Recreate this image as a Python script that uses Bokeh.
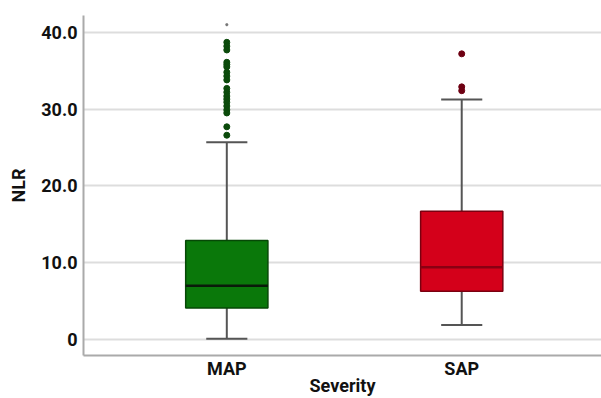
from bokeh.plotting import figure
from bokeh.models import FixedTicker, Range1d
from bokeh.embed import file_html
from bokeh.resources import INLINE

categories = ["MAP", "SAP"]
q1 = [4.1, 6.3]
median = [7.0, 9.4]
q3 = [12.9, 16.7]
lower = [0.1, 1.9]
upper = [25.7, 31.25]
map_outliers = [38.7, 38.2, 37.7, 36.1, 35.8, 35.5, 34.8, 34.3, 33.8, 32.7, 32.2,
                31.7, 31.3, 30.9, 30.4, 29.9, 29.5, 27.7, 26.6]
map_extremes = [41.0]
sap_outliers = [37.2, 32.9, 32.4]
y_ticks = [0, 10, 20, 30, 40]
y_tick_labels = ["0", "10.0", "20.0", "30.0", "40.0"]
x_title = "Severity"
y_title = "NLR"

fills = ["#0a780a", "#d4001a"]
edges = ["#064806", "#7a0010"]
med_colors = ["#0a1a0a", "#8a0012"]

FONT = "Roboto"

p = figure(width=601, height=398, output_backend="svg", toolbar_location=None,
           x_range=Range1d(-0.61, 1.595), y_range=Range1d(-2.08, 42.19),
           min_border_left=83, min_border_right=0, min_border_top=15, min_border_bottom=43)
p.outline_line_color = None
p.background_fill_color = "white"
p.border_fill_color = "white"

xs = list(range(len(categories)))
bw = 0.35
cw = 0.175

# whiskers
p.segment(x0=xs, y0=q3, x1=xs, y1=upper, line_color="#555555", line_width=2)
p.segment(x0=xs, y0=lower, x1=xs, y1=q1, line_color="#555555", line_width=2)
p.segment(x0=[x - cw / 2 for x in xs], y0=upper, x1=[x + cw / 2 for x in xs], y1=upper,
          line_color="#555555", line_width=2)
p.segment(x0=[x - cw / 2 for x in xs], y0=lower, x1=[x + cw / 2 for x in xs], y1=lower,
          line_color="#555555", line_width=2)

# boxes
p.vbar(x=xs, width=bw, bottom=q1, top=q3, fill_color=fills, line_color=edges, line_width=1.5)
p.segment(x0=[x - bw / 2 for x in xs], y0=median, x1=[x + bw / 2 for x in xs], y1=median,
          line_color=med_colors, line_width=2.5)

# outliers
p.scatter(x=[0] * len(map_outliers), y=map_outliers, size=6, fill_color="#0b4a0b",
          line_color="#0b4a0b")
p.scatter(x=[0] * len(map_extremes), y=map_extremes, size=3, marker="asterisk",
          line_color="#777777", line_width=1.2)
p.scatter(x=[1] * len(sap_outliers), y=sap_outliers, size=6, fill_color="#6e0012",
          line_color="#6e0012")

# axes
p.xaxis.ticker = FixedTicker(ticks=xs)
p.xaxis.major_label_overrides = {i: c for i, c in enumerate(categories)}
p.yaxis.ticker = FixedTicker(ticks=y_ticks)
p.yaxis.major_label_overrides = {t: l for t, l in zip(y_ticks, y_tick_labels)}
p.xaxis.axis_label = x_title
p.yaxis.axis_label = y_title
for ax in (p.xaxis, p.yaxis):
    ax.axis_line_color = "#aaaaaa"
    ax.axis_line_width = 2
    ax.major_tick_line_color = None
    ax.minor_tick_line_color = None
    ax.major_tick_out = 0
    ax.major_tick_in = 0
    ax.major_label_text_font = FONT
    ax.major_label_text_font_style = "bold"
    ax.major_label_text_font_size = "18px"
    ax.major_label_text_color = "#111111"
    ax.axis_label_text_font = FONT
    ax.axis_label_text_font_style = "bold"
    ax.axis_label_text_font_size = "18px"
    ax.axis_label_text_color = "#111111"
p.xaxis.major_label_standoff = 2
p.xaxis.axis_label_standoff = -7
p.yaxis.major_label_standoff = 6
p.yaxis.axis_label_standoff = 9

p.xgrid.grid_line_color = None
p.ygrid.grid_line_color = "#dddddd"
p.ygrid.grid_line_width = 2

open("out.html", "w").write(file_html(p, INLINE))
